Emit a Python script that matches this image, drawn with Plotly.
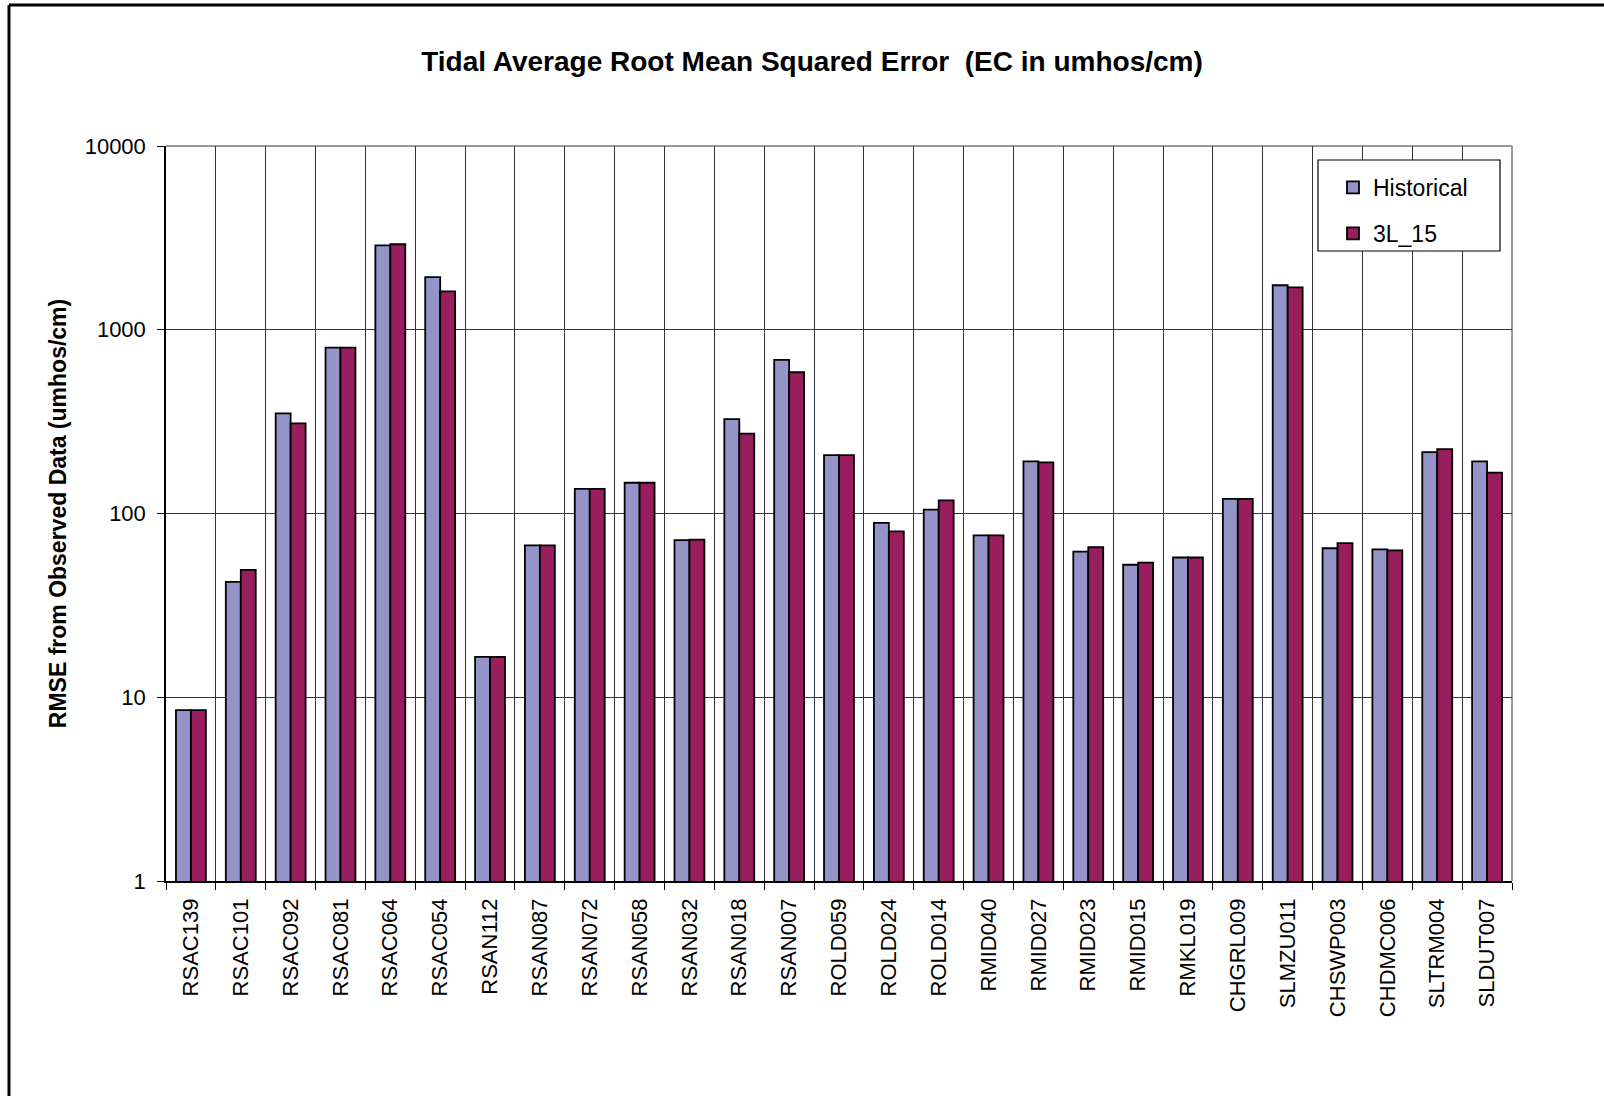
import plotly.graph_objects as go

stations = ["RSAC139", "RSAC101", "RSAC092", "RSAC081", "RSAC064", "RSAC054", "RSAN112",
            "RSAN087", "RSAN072", "RSAN058", "RSAN032", "RSAN018", "RSAN007", "ROLD059",
            "ROLD024", "ROLD014", "RMID040", "RMID027", "RMID023", "RMID015", "RMKL019",
            "CHGRL009", "SLMZU011", "CHSWP003", "CHDMC006", "SLTRM004", "SLDUT007"]
historical = [8.5, 42.4, 351, 800, 2880, 1935, 16.6, 67, 136, 147, 71.6, 326, 685, 208,
              89, 105, 76, 192, 62, 52.6, 57.6, 120, 1746, 64.7, 63.8, 216, 192]
l3_15 = [8.5, 49.4, 309, 800, 2920, 1618, 16.6, 67, 136, 147, 72, 272, 587, 208,
         80, 118, 76, 190, 65.5, 54, 57.6, 120, 1702, 69, 63, 224, 167]
ytickvals = [1, 10, 100, 1000, 10000]
yticktext = ["1", "10", "100", "1000", "10000"]

W, H = 1604, 1096
L, R, T, B = 166, 1512, 146, 881

FONT = "Liberation Sans, Arial, sans-serif"

fig = go.Figure()
fig.add_trace(go.Bar(name="Historical", x=stations, y=historical,
                     marker=dict(color="#9494C8", line=dict(color="black", width=1.8)),
                     legendgroup="a"))
fig.add_trace(go.Bar(name="3L_15", x=stations, y=l3_15,
                     marker=dict(color="#981E5E", line=dict(color="black", width=1.8)),
                     legendgroup="b"))

def px(x):
    return (x - L) / (R - L)

def py(y):
    return (B - y) / (B - T)

fig.update_layout(
    width=W, height=H,
    margin=dict(l=L, r=W - R, t=T, b=H - B, autoexpand=False),
    paper_bgcolor="white", plot_bgcolor="white",
    font=dict(family=FONT, color="black"),
    barmode="group", bargap=0.4, bargroupgap=0.0,
    title=dict(text="<b>Tidal Average Root Mean Squared Error&nbsp;&nbsp;(EC in umhos/cm)</b>",
               x=px(812), xanchor="center", xref="paper", y=1 - 61 / H, yanchor="middle",
               font=dict(size=28, family=FONT, color="black")),
    legend=dict(x=px(1333), y=py(166), xanchor="left", yanchor="top",
                borderwidth=0, bgcolor="rgba(0,0,0,0)",
                font=dict(size=23, family=FONT, color="black"),
                tracegroupgap=13, traceorder="grouped", itemwidth=30),
    xaxis=dict(type="category", tickson="boundaries", showgrid=True, gridcolor="#333333",
               gridwidth=1, ticks="outside", ticklen=7, tickcolor="black",
               tickangle=-90, tickfont=dict(size=22, family=FONT, color="black"),
               showline=True, linecolor="black", linewidth=1.5, ticklabelstandoff=7),
    yaxis=dict(type="log", range=[0, 4], tickvals=ytickvals, ticktext=yticktext,
               showgrid=True, gridcolor="#333333", gridwidth=1, ticks="outside",
               ticklen=7, tickcolor="black", tickfont=dict(size=22, family=FONT, color="black"),
               showline=True, linecolor="black", linewidth=1.5, ticklabelstandoff=7,
               title=dict(text="<b>RMSE from Observed Data (umhos/cm)</b>", standoff=12,
                          font=dict(size=23, family=FONT, color="black"))),
    shapes=[
        dict(type="line", xref="paper", yref="paper", x0=0, x1=1, y0=1, y1=1,
             line=dict(color="#999999", width=2), layer="below"),
        dict(type="line", xref="paper", yref="paper", x0=1, x1=1, y0=0, y1=1,
             line=dict(color="#999999", width=2), layer="below"),
        # legend box
        dict(type="rect", xref="paper", yref="paper", x0=px(1318), x1=px(1500),
             y0=py(251), y1=py(160), line=dict(color="black", width=1.2),
             fillcolor="white", layer="above"),
        # outer chart frame (top and left edges)
        dict(type="line", xref="paper", yref="paper", x0=px(9), x1=px(1610),
             y0=py(5), y1=py(5), line=dict(color="black", width=3)),
        dict(type="line", xref="paper", yref="paper", x0=px(9), x1=px(9),
             y0=py(5), y1=py(1110), line=dict(color="black", width=3)),
    ],
)

fig.write_html("out.html", config={"displayModeBar": False},
               post_script="document.body.style.margin='0px';")
